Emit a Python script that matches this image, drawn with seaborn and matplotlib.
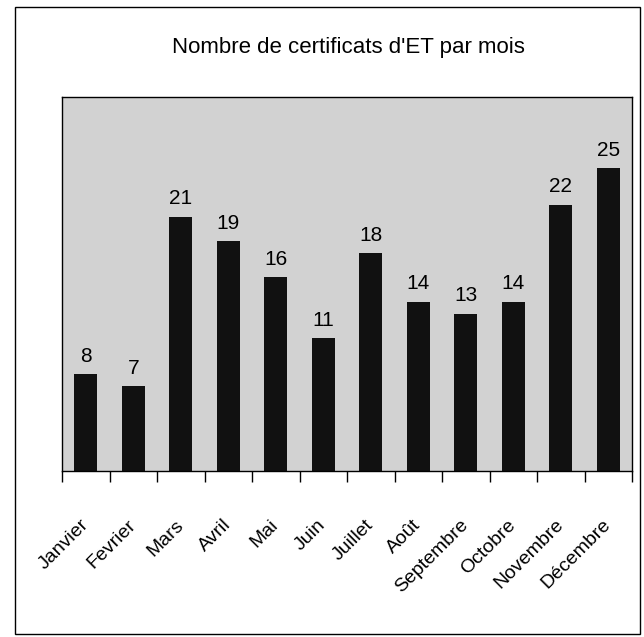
import pandas as pd
import seaborn as sns
import matplotlib.pyplot as plt
from matplotlib.patches import Rectangle

mois = ['Janvier', 'Fevrier', 'Mars', 'Avril', 'Mai', 'Juin', 'Juillet',
        'Août', 'Septembre', 'Octobre', 'Novembre', 'Décembre']
certificats = [8, 7, 21, 19, 16, 11, 18, 14, 13, 14, 22, 25]

df = pd.DataFrame({'mois': mois, 'certificats': certificats})

sns.set_style('white')
plt.rcParams['font.family'] = ['Liberation Sans', 'DejaVu Sans']
plt.rcParams['text.color'] = 'black'
plt.rcParams['xtick.color'] = 'black'

fig = plt.figure(figsize=(6.44, 6.37), dpi=100)
ax = fig.add_axes([62 / 644, 1 - 471 / 637, 570 / 644, 374 / 637])
ax.set_facecolor('#d2d2d2')

sns.barplot(data=df, x='mois', y='certificats', color='#111111', width=0.48,
            saturation=1, linewidth=0, ax=ax)

# valeurs au-dessus des barres
for i, v in enumerate(certificats):
    ax.annotate(str(v), (i, v), xytext=(0, 6), textcoords='offset points',
                ha='center', va='bottom', fontsize=15, color='black')

ax.set_ylim(0, 30.9)
ax.set_xlim(-0.5, len(mois) - 0.5)
ax.set_yticks([])
ax.set_xlabel('')
ax.set_ylabel('')

# graduations entre les catégories
ax.set_xticks([i - 0.5 for i in range(len(mois) + 1)], minor=True)
ax.tick_params(axis='x', which='minor', direction='out', length=8, width=1, color='black', bottom=True)
ax.tick_params(axis='x', which='major', length=0, pad=37, labelsize=14, labelcolor='black')
for lab in ax.get_xticklabels():
    lab.set_rotation(45)
    lab.set_ha('right')
    lab.set_va('center')
    lab.set_rotation_mode('anchor')

for s in ax.spines.values():
    s.set_visible(True)
    s.set_color('black')
    s.set_linewidth(1)

fig.text(348 / 644, 1 - 47 / 637, "Nombre de certificats d'ET par mois",
         ha='center', va='center', fontsize=16, color='black')

# cadre du graphique
fig.patches.append(Rectangle((15 / 644, 1 - 634 / 637), 625 / 644, 627 / 637,
                             transform=fig.transFigure, fill=False,
                             edgecolor='black', linewidth=1))

fig.savefig('out.png', dpi=100)
